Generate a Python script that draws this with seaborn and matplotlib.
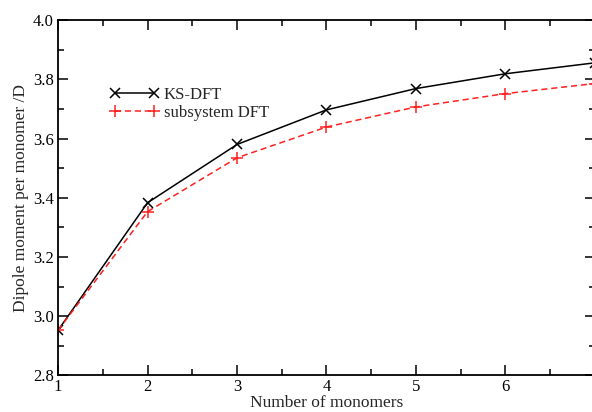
import numpy as np
import matplotlib
matplotlib.use("Agg")
import matplotlib.pyplot as plt
from matplotlib.ticker import MultipleLocator
import pandas as pd
import seaborn as sns

# values
monomers = [1, 2, 3, 4, 5, 6, 7]
ks_dft = [2.952, 3.383, 3.580, 3.697, 3.769, 3.819, 3.856]
subsystem_dft = [2.952, 3.353, 3.535, 3.639, 3.707, 3.752, 3.786]

sns.set_theme(style="ticks")
plt.rcParams['font.family'] = ['Liberation Serif', 'DejaVu Serif']

fig = plt.figure(figsize=(5.92, 4.12), dpi=100)
ax = fig.add_axes([0.098, 0.089, 0.907, 0.862])

df = pd.DataFrame({'n': monomers, 'ks': ks_dft, 'sub': subsystem_dft})

sns.lineplot(data=df, x='n', y='ks', ax=ax, color='black', lw=1.1,
             marker='x', markersize=6.5, markeredgewidth=1.1,
             markeredgecolor='black', label='KS-DFT')
sns.lineplot(data=df, x='n', y='sub', ax=ax, color='#ff2020', lw=1.1,
             linestyle=(0, (4, 2.5)), marker='+', markersize=9,
             markeredgewidth=1.1, markeredgecolor='#ff2020',
             label='subsystem DFT')

ax.set_xlim(1, 7)
ax.set_ylim(2.8, 4.0)
ax.xaxis.set_major_locator(MultipleLocator(1))
ax.xaxis.set_minor_locator(MultipleLocator(0.5))
ax.yaxis.set_major_locator(MultipleLocator(0.2))
ax.yaxis.set_minor_locator(MultipleLocator(0.1))
ax.yaxis.set_major_formatter(matplotlib.ticker.FormatStrFormatter('%.1f'))

ax.tick_params(which='both', direction='in', top=True, right=True,
               labelsize=12, width=1.1, colors='black', pad=3)
ax.tick_params(which='major', length=7)
ax.tick_params(which='minor', length=4)
for sp in ax.spines.values():
    sp.set_linewidth(1.3)
    sp.set_color('black')

ax.set_xlabel('Number of monomers', fontsize=12.5, labelpad=0)
ax.set_ylabel('Dipole moment per monomer /D', fontsize=12.5, labelpad=3)

ax.legend(loc='upper left', bbox_to_anchor=(0.085, 0.83), frameon=False,
          numpoints=2, handlelength=2.9, handletextpad=0.3,
          labelspacing=0.1, fontsize=12, borderaxespad=0)

fig.savefig('out.png', dpi=100)
